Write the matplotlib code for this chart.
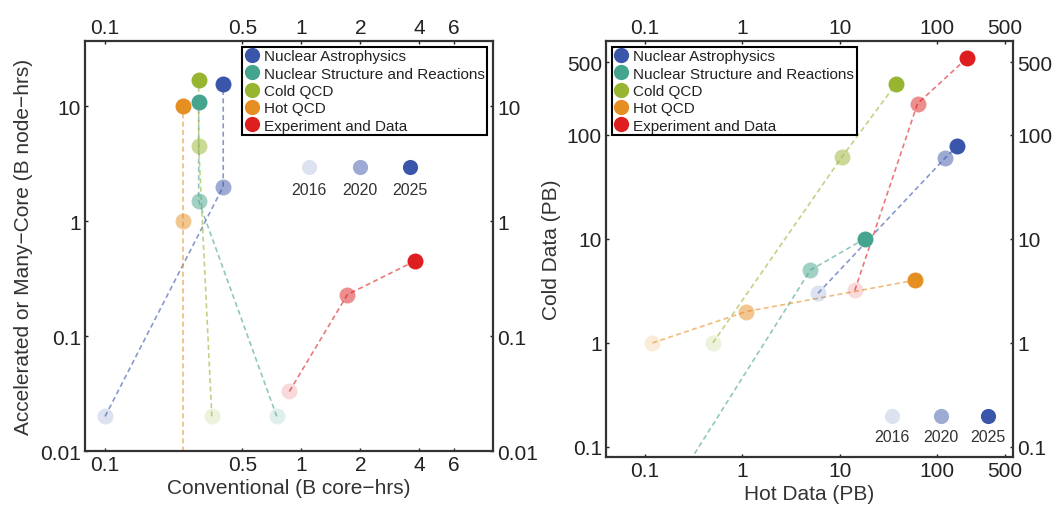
import matplotlib.pyplot as plt
from matplotlib.lines import Line2D

plt.rcParams["font.family"] = ["Liberation Sans", "DejaVu Sans"]

series = ["Nuclear Astrophysics", "Nuclear Structure and Reactions", "Cold QCD", "Hot QCD", "Experiment and Data"]
colors = ["#3a56aa", "#45a48d", "#97b531", "#e58f23", "#dd1f1f"]
years = ["2016", "2020", "2025"]
year_alpha = [0.17, 0.5, 1.0]

# left panel: conventional (B core-hrs) vs accelerated (B node-hrs), per year 2016/2020/2025
conv = [
    [0.1, 0.40, 0.40],
    [0.75, 0.30, 0.30],
    [0.35, 0.30, 0.30],
    [0.25, 0.25, 0.25],
    [0.87, 1.72, 3.8],
]
accel = [
    [0.02, 2.0, 15.6],
    [0.02, 1.5, 11.0],
    [0.02, 4.5, 17.0],
    [0.001, 1.0, 10.0],
    [0.033, 0.23, 0.45],
]

# right panel: hot data (PB) vs cold data (PB)
hot = [
    [6.0, 121, 161],
    [0.1, 5.0, 18.0],
    [0.5, 10.5, 38.0],
    [0.12, 1.1, 59.0],
    [14.3, 63.0, 204],
]
cold = [
    [3.0, 60.0, 78.0],
    [0.015, 5.0, 10.0],
    [1.0, 61.0, 310],
    [1.0, 2.0, 4.0],
    [3.2, 200, 550],
]

left_xticks = [0.1, 0.5, 1, 2, 4, 6]
left_yticks = [0.01, 0.1, 1, 10]
right_xticks = [0.1, 1, 10, 100, 500]
right_yticks = [0.1, 1, 10, 100, 500]

fig = plt.figure(figsize=(10.64, 5.10), dpi=100)
ax1 = fig.add_axes([0.0799, 0.1137, 0.3835, 0.804])
ax2 = fig.add_axes([0.5695, 0.102, 0.3825, 0.8157])

ms = 11.5


def draw(ax, xs, ys):
    for i in range(len(series)):
        ax.plot(xs[i], ys[i], ls=(0, (3, 2)), lw=1.2, color=colors[i], alpha=0.6, zorder=2)
        for k in range(3):
            ax.plot(xs[i][k], ys[i][k], "o", ms=ms, mec="none",
                    color=colors[i], alpha=year_alpha[k], zorder=3)


def style(ax, xticks, yticks, xlim, ylim):
    ax.set_xscale("log")
    ax.set_yscale("log")
    ax.set_xlim(*xlim)
    ax.set_ylim(*ylim)
    ax.set_xticks(xticks, [f"{t:g}" for t in xticks])
    ax.set_yticks(yticks, [f"{t:g}" for t in yticks])
    ax.minorticks_off()
    ax.tick_params(which="both", direction="in", length=2.5, width=1, top=True, right=True,
                   labeltop=True, labelright=True, labelsize=15, colors="#222", pad=3)
    for s in ax.spines.values():
        s.set_linewidth(1.6)
        s.set_color("#333")


def year_key(ax, xs, y, ty):
    for k in range(3):
        ax.plot(xs[k], y, "o", ms=ms * 0.95, mec="none", color=colors[0], alpha=year_alpha[k],
                transform=ax.transAxes, clip_on=False)
        ax.text(xs[k], ty, years[k], transform=ax.transAxes, ha="center", va="center",
                fontsize=11.5, color="#333")


draw(ax1, conv, accel)
style(ax1, left_xticks, left_yticks, (0.079, 9.5), (0.01, 37))
ax1.set_xlabel("Conventional (B core\u2212hrs)", fontsize=15, color="#333", labelpad=3)
ax1.set_ylabel("Accelerated or Many\u2212Core (B node\u2212hrs)", fontsize=15, color="#333", labelpad=5)
year_key(ax1, [0.549, 0.674, 0.797], 0.693, 0.637)

draw(ax2, hot, cold)
style(ax2, right_xticks, right_yticks, (0.04, 600), (0.08, 800))
ax2.set_xlabel("Hot Data (PB)", fontsize=15, color="#333", labelpad=3)
ax2.set_ylabel("Cold Data (PB)", fontsize=15, color="#333", labelpad=4)
year_key(ax2, [0.703, 0.823, 0.939], 0.0986, 0.05)

handles = [Line2D([], [], ls="none", marker="o", ms=11, mec="none", color=c) for c in colors]
for ax, loc in [(ax1, "upper right"), (ax2, "upper left")]:
    leg = ax.legend(handles, series, loc=loc, fontsize=11, frameon=True, fancybox=False,
                    framealpha=1, edgecolor="black", borderpad=0.15, labelspacing=0.22,
                    handlelength=0.9, handletextpad=0.35, borderaxespad=0.4)
    leg.get_frame().set_linewidth(1.5)
    for t in leg.get_texts():
        t.set_color("#222")

fig.savefig("out.png", dpi=100)
